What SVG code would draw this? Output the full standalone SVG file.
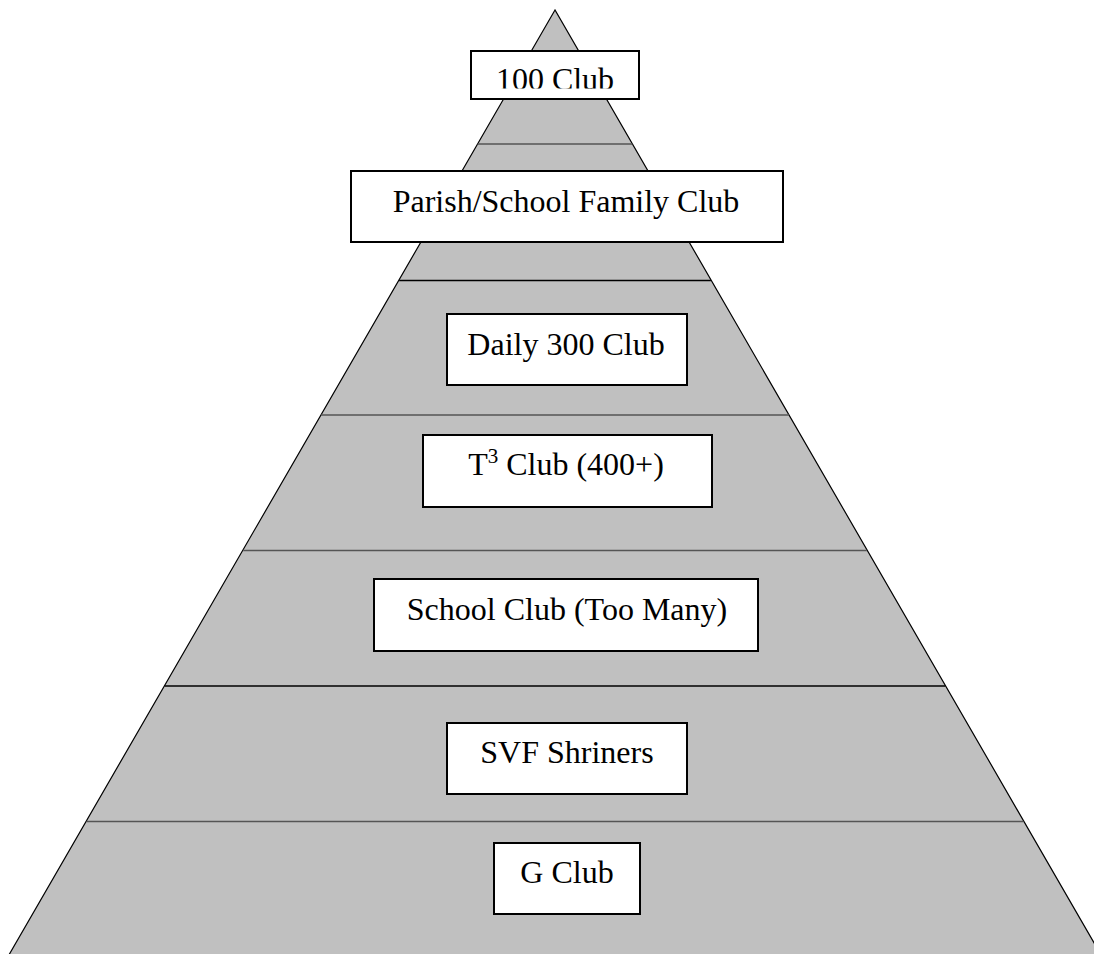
<svg xmlns="http://www.w3.org/2000/svg" width="1094" height="954" viewBox="0 0 1094 954">
  <style>
    .box { fill: #ffffff; stroke: #000000; stroke-width: 2; }
    .lbl { font-family: "Liberation Serif", "Times New Roman", serif; font-size: 32px; fill: #000000; text-anchor: middle; }
    .tier { stroke-width: 1.5; }
  </style>
  <defs>
    <clipPath id="clip100">
      <rect x="472" y="52" width="166" height="36.5"/>
    </clipPath>
  </defs>
  <rect x="0" y="0" width="1094" height="954" fill="#ffffff"/>
  <g id="pyramid">
    <polygon points="555,10 6,960 1104,960" fill="#c0c0c0" stroke="#000000" stroke-width="1.2"/>
  </g>
  <g id="tier-lines">
    <line class="tier" x1="477.6" y1="144" x2="632.4" y2="144" stroke="#555555"/>
    <line class="tier" x1="399.1" y1="280.5" x2="710.9" y2="280.5" stroke="#000000"/>
    <line class="tier" x1="321.1" y1="415" x2="788.9" y2="415" stroke="#555555"/>
    <line class="tier" x1="243.2" y1="550.5" x2="866.9" y2="550.5" stroke="#555555"/>
    <line class="tier" x1="164.6" y1="686" x2="945.4" y2="686" stroke="#000000"/>
    <line class="tier" x1="86.6" y1="821.5" x2="1023.4" y2="821.5" stroke="#555555"/>
  </g>
  <g id="node-100club">
    <rect class="box" x="471" y="51" width="168" height="48"/>
    <text class="lbl" x="555" y="90" clip-path="url(#clip100)">100 Club</text>
  </g>
  <g id="node-parish">
    <rect class="box" x="351" y="171" width="432" height="71"/>
    <text class="lbl" x="566" y="212">Parish/School Family Club</text>
  </g>
  <g id="node-daily300">
    <rect class="box" x="447" y="314" width="240" height="71"/>
    <text class="lbl" x="566" y="355">Daily 300 Club</text>
  </g>
  <g id="node-t3">
    <rect class="box" x="423" y="435" width="289" height="72"/>
    <text class="lbl" x="566" y="475">T<tspan font-size="21" dy="-12">3</tspan><tspan dy="12"> Club (400+)</tspan></text>
  </g>
  <g id="node-school">
    <rect class="box" x="374" y="579" width="384" height="72"/>
    <text class="lbl" x="567" y="620">School Club (Too Many)</text>
  </g>
  <g id="node-svf">
    <rect class="box" x="447" y="723" width="240" height="71"/>
    <text class="lbl" x="567" y="763">SVF Shriners</text>
  </g>
  <g id="node-gclub">
    <rect class="box" x="494" y="843" width="146" height="71"/>
    <text class="lbl" x="567" y="883">G Club</text>
  </g>
</svg>
